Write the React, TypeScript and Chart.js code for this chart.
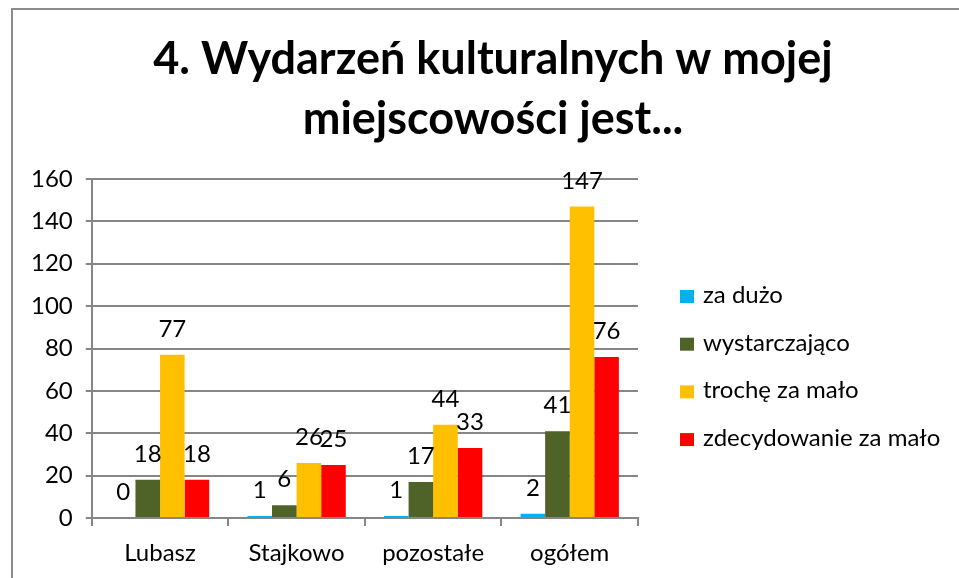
import React, { useEffect, useRef } from "react";
import { Chart, registerables } from "chart.js";

Chart.register(...registerables);

const categories = ["Lubasz", "Stajkowo", "pozostałe", "ogółem"];
const seriesNames = ["za dużo", "wystarczająco", "trochę za mało", "zdecydowanie za mało"];
const zaDuzo = [0, 1, 1, 2];
const wystarczajaco = [18, 6, 17, 41];
const trocheZaMalo = [77, 26, 44, 147];
const zdecydowanieZaMalo = [18, 25, 33, 76];
const seriesColors = ["#00B0F0", "#4F6228", "#FFC000", "#FF0000"];
const titleLines = ["4. Wydarzeń kulturalnych w mojej", "miejscowości jest..."];
const yMin = 0;
const yMax = 160;
const yStep = 20;

const FONT = "Lato, 'Open Sans', sans-serif";
const TEXT_SIZE = 24;

const framePlugin = {
  id: "frame",
  beforeDraw(chart: any) {
    const ctx = chart.ctx;
    ctx.save();
    ctx.fillStyle = "#ffffff";
    ctx.fillRect(0, 0, chart.width, chart.height);
    ctx.strokeStyle = "#8c8c8c";
    ctx.lineWidth = 2;
    ctx.beginPath();
    ctx.moveTo(12, chart.height + 5);
    ctx.lineTo(12, 9);
    ctx.lineTo(chart.width + 5, 9);
    ctx.stroke();
    ctx.restore();
  },
};

const titlePlugin = {
  id: "customTitle",
  afterDraw(chart: any) {
    const ctx = chart.ctx;
    ctx.save();
    ctx.fillStyle = "#000000";
    ctx.font = `bold 45px ${FONT}`;
    ctx.textAlign = "center";
    ctx.textBaseline = "alphabetic";
    titleLines.forEach((line, i) => {
      ctx.fillText(line, 493, 74 + i * 60);
    });
    ctx.restore();
  },
};

const legendPlugin = {
  id: "customLegend",
  afterDraw(chart: any) {
    const ctx = chart.ctx;
    ctx.save();
    ctx.font = `${TEXT_SIZE}px ${FONT}`;
    ctx.textAlign = "left";
    ctx.textBaseline = "alphabetic";
    chart.data.datasets.forEach((ds: any, i: number) => {
      const top = 290 + i * 47.7;
      ctx.fillStyle = ds.backgroundColor;
      ctx.fillRect(680, top, 14, 13);
      ctx.fillStyle = "#000000";
      ctx.fillText(ds.label, 703, top + 13);
    });
    ctx.restore();
  },
};

const valueLabelPlugin = {
  id: "valueLabels",
  afterDatasetsDraw(chart: any) {
    const ctx = chart.ctx;
    ctx.save();
    ctx.fillStyle = "#000000";
    ctx.font = `${TEXT_SIZE}px ${FONT}`;
    ctx.textAlign = "center";
    ctx.textBaseline = "alphabetic";
    chart.data.datasets.forEach((ds: any, i: number) => {
      const meta = chart.getDatasetMeta(i);
      meta.data.forEach((bar: any, j: number) => {
        ctx.fillText(String(ds.data[j]), bar.x, bar.y - 18);
      });
    });
    ctx.restore();
  },
};

export default function App() {
  const ref = useRef<HTMLCanvasElement | null>(null);
  useEffect(() => {
    if (!ref.current) return;
    const seriesData = [zaDuzo, wystarczajaco, trocheZaMalo, zdecydowanieZaMalo];
    const chart = new Chart(ref.current, {
      type: "bar",
      data: {
        labels: categories,
        datasets: seriesNames.map((name, i) => ({
          label: name,
          data: seriesData[i],
          backgroundColor: seriesColors[i],
          borderWidth: 0,
          categoryPercentage: 0.72,
          barPercentage: 1,
        })),
      },
      options: {
        animation: false,
        responsive: false,
        devicePixelRatio: 1,
        layout: { padding: { left: 18, right: 321, top: 179, bottom: -2 } },
        plugins: {
          title: { display: false },
          legend: { display: false },
          tooltip: { enabled: false },
        },
        scales: {
          x: {
            grid: {
              offset: true,
              drawOnChartArea: false,
              drawTicks: true,
              tickLength: 8,
              color: "#868686",
              lineWidth: 2,
            },
            border: { display: true, color: "#868686", width: 2 },
            ticks: {
              color: "#000000",
              font: { family: FONT, size: TEXT_SIZE, lineHeight: 1 },
              padding: 15,
            },
          },
          y: {
            min: yMin,
            max: yMax,
            ticks: {
              stepSize: yStep,
              color: "#000000",
              font: { family: FONT, size: TEXT_SIZE },
              padding: 13,
            },
            grid: { color: "#868686", lineWidth: 2, tickLength: 6, drawTicks: true },
            border: { display: true, color: "#868686", width: 2 },
          },
        },
      },
      plugins: [framePlugin, valueLabelPlugin, titlePlugin, legendPlugin],
    });
    return () => chart.destroy();
  }, []);
  return (
    <div style={{ position: "absolute", left: 0, top: 0, width: 959, height: 578 }}>
      <canvas ref={ref} width={959} height={578} style={{ display: "block" }} />
    </div>
  );
}
